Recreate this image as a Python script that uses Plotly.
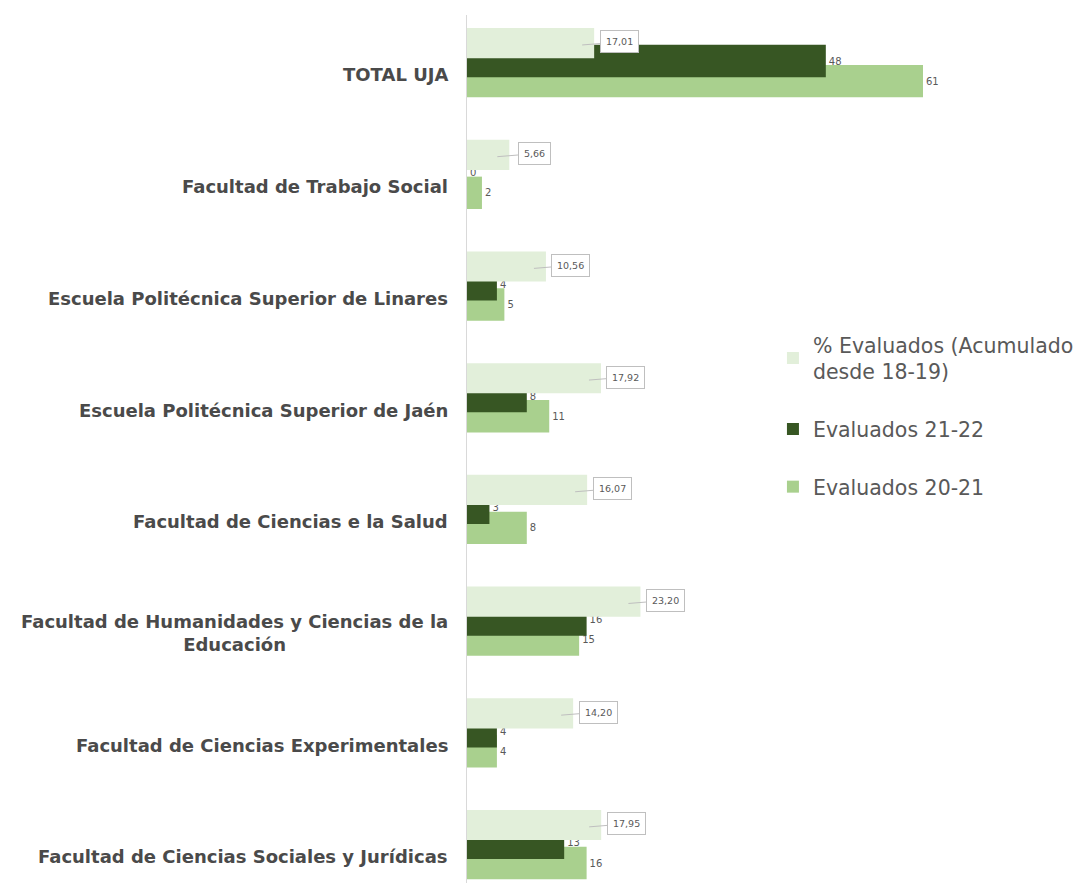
import plotly.graph_objects as go

categories = [
    "TOTAL UJA",
    "Facultad de Trabajo Social",
    "Escuela Politécnica Superior de Linares",
    "Escuela Politécnica Superior de Jaén",
    "Facultad de Ciencias e la Salud",
    "Facultad de Humanidades y Ciencias de la<br>Educación",
    "Facultad de Ciencias Experimentales",
    "Facultad de Ciencias Sociales y Jurídicas",
]
pct_evaluados = [17.01, 5.66, 10.56, 17.92, 16.07, 23.20, 14.20, 17.95]
evaluados_21_22 = [48, 0, 4, 8, 3, 16, 4, 13]
evaluados_20_21 = [61, 2, 5, 11, 8, 15, 4, 16]

pct_labels = [f"{v:.2f}".replace(".", ",") for v in pct_evaluados]

C_LIGHT = "#e2efda"
C_DARK = "#375623"
C_MED = "#a9d08e"
TXT = "#595959"
LBL = "#4a4a4a"
FONT = "DejaVu Sans"

fig = go.Figure()

# drawing order: medium first, then dark, then light on top
fig.add_trace(go.Bar(
    y=categories, x=evaluados_20_21, orientation="h", name="Evaluados 20-21",
    marker=dict(color=C_MED, line=dict(width=0)),
    offset=-0.09, width=0.29,
    text=[str(v) for v in evaluados_20_21], textposition="outside",
    textfont=dict(size=10, color=TXT, family=FONT), cliponaxis=False,
    legendgroup="c", legendrank=3,
))
fig.add_trace(go.Bar(
    y=categories, x=evaluados_21_22, orientation="h", name="Evaluados 21-22",
    marker=dict(color=C_DARK, line=dict(width=0)),
    offset=-0.27, width=0.29,
    text=[str(v) for v in evaluados_21_22], textposition="outside",
    textfont=dict(size=10, color=TXT, family=FONT), cliponaxis=False,
    legendgroup="b", legendrank=2,
))
fig.add_trace(go.Bar(
    y=categories, x=pct_evaluados, orientation="h",
    name="% Evaluados (Acumulado<br>desde 18-19)",
    marker=dict(color=C_LIGHT, line=dict(width=0)),
    offset=-0.42, width=0.27,
    legendgroup="a", legendrank=1,
))

annotations = []
for cat, v, lab in zip(categories, pct_evaluados, pct_labels):
    annotations.append(dict(
        x=v, y=cat, xref="x", yref="y", text=lab,
        showarrow=True, arrowhead=0, arrowwidth=1, arrowcolor="#bfbfbf",
        ax=37, ay=-3, xshift=-12, yshift=30,
        bgcolor="white", bordercolor="#bfbfbf", borderwidth=1, borderpad=5,
        font=dict(size=9.5, color=TXT, family=FONT),
    ))
    annotations.append(dict(
        x=0, y=cat, xref="paper", yref="y", text="<b>" + cat + "</b>",
        showarrow=False, xanchor="right", xshift=-17, align="center",
        font=dict(size=18, color=LBL, family=FONT),
    ))

fig.update_layout(
    width=1066, height=875,
    margin=dict(l=459, r=74, t=7, b=0, autoexpand=False),
    paper_bgcolor="white", plot_bgcolor="white",
    barmode="overlay",
    showlegend=True,
    legend=dict(
        x=0.574, y=0.643, xanchor="left", yanchor="top",
        traceorder="grouped", tracegroupgap=28,
        font=dict(size=20.5, color=TXT, family=FONT),
        itemwidth=30, bgcolor="rgba(0,0,0,0)",
    ),
    annotations=annotations,
    font=dict(family=FONT),
)
fig.update_xaxes(range=[0, 71.3], showgrid=False, zeroline=False,
                 showticklabels=False, showline=False, ticks="")
fig.update_yaxes(type="category", categoryorder="array", categoryarray=categories,
                 range=[7.234, -0.537], showgrid=False, zeroline=False,
                 showticklabels=False, ticks="",
                 showline=True, linecolor="#d9d9d9", linewidth=1)

fig.write_html("out.html")
